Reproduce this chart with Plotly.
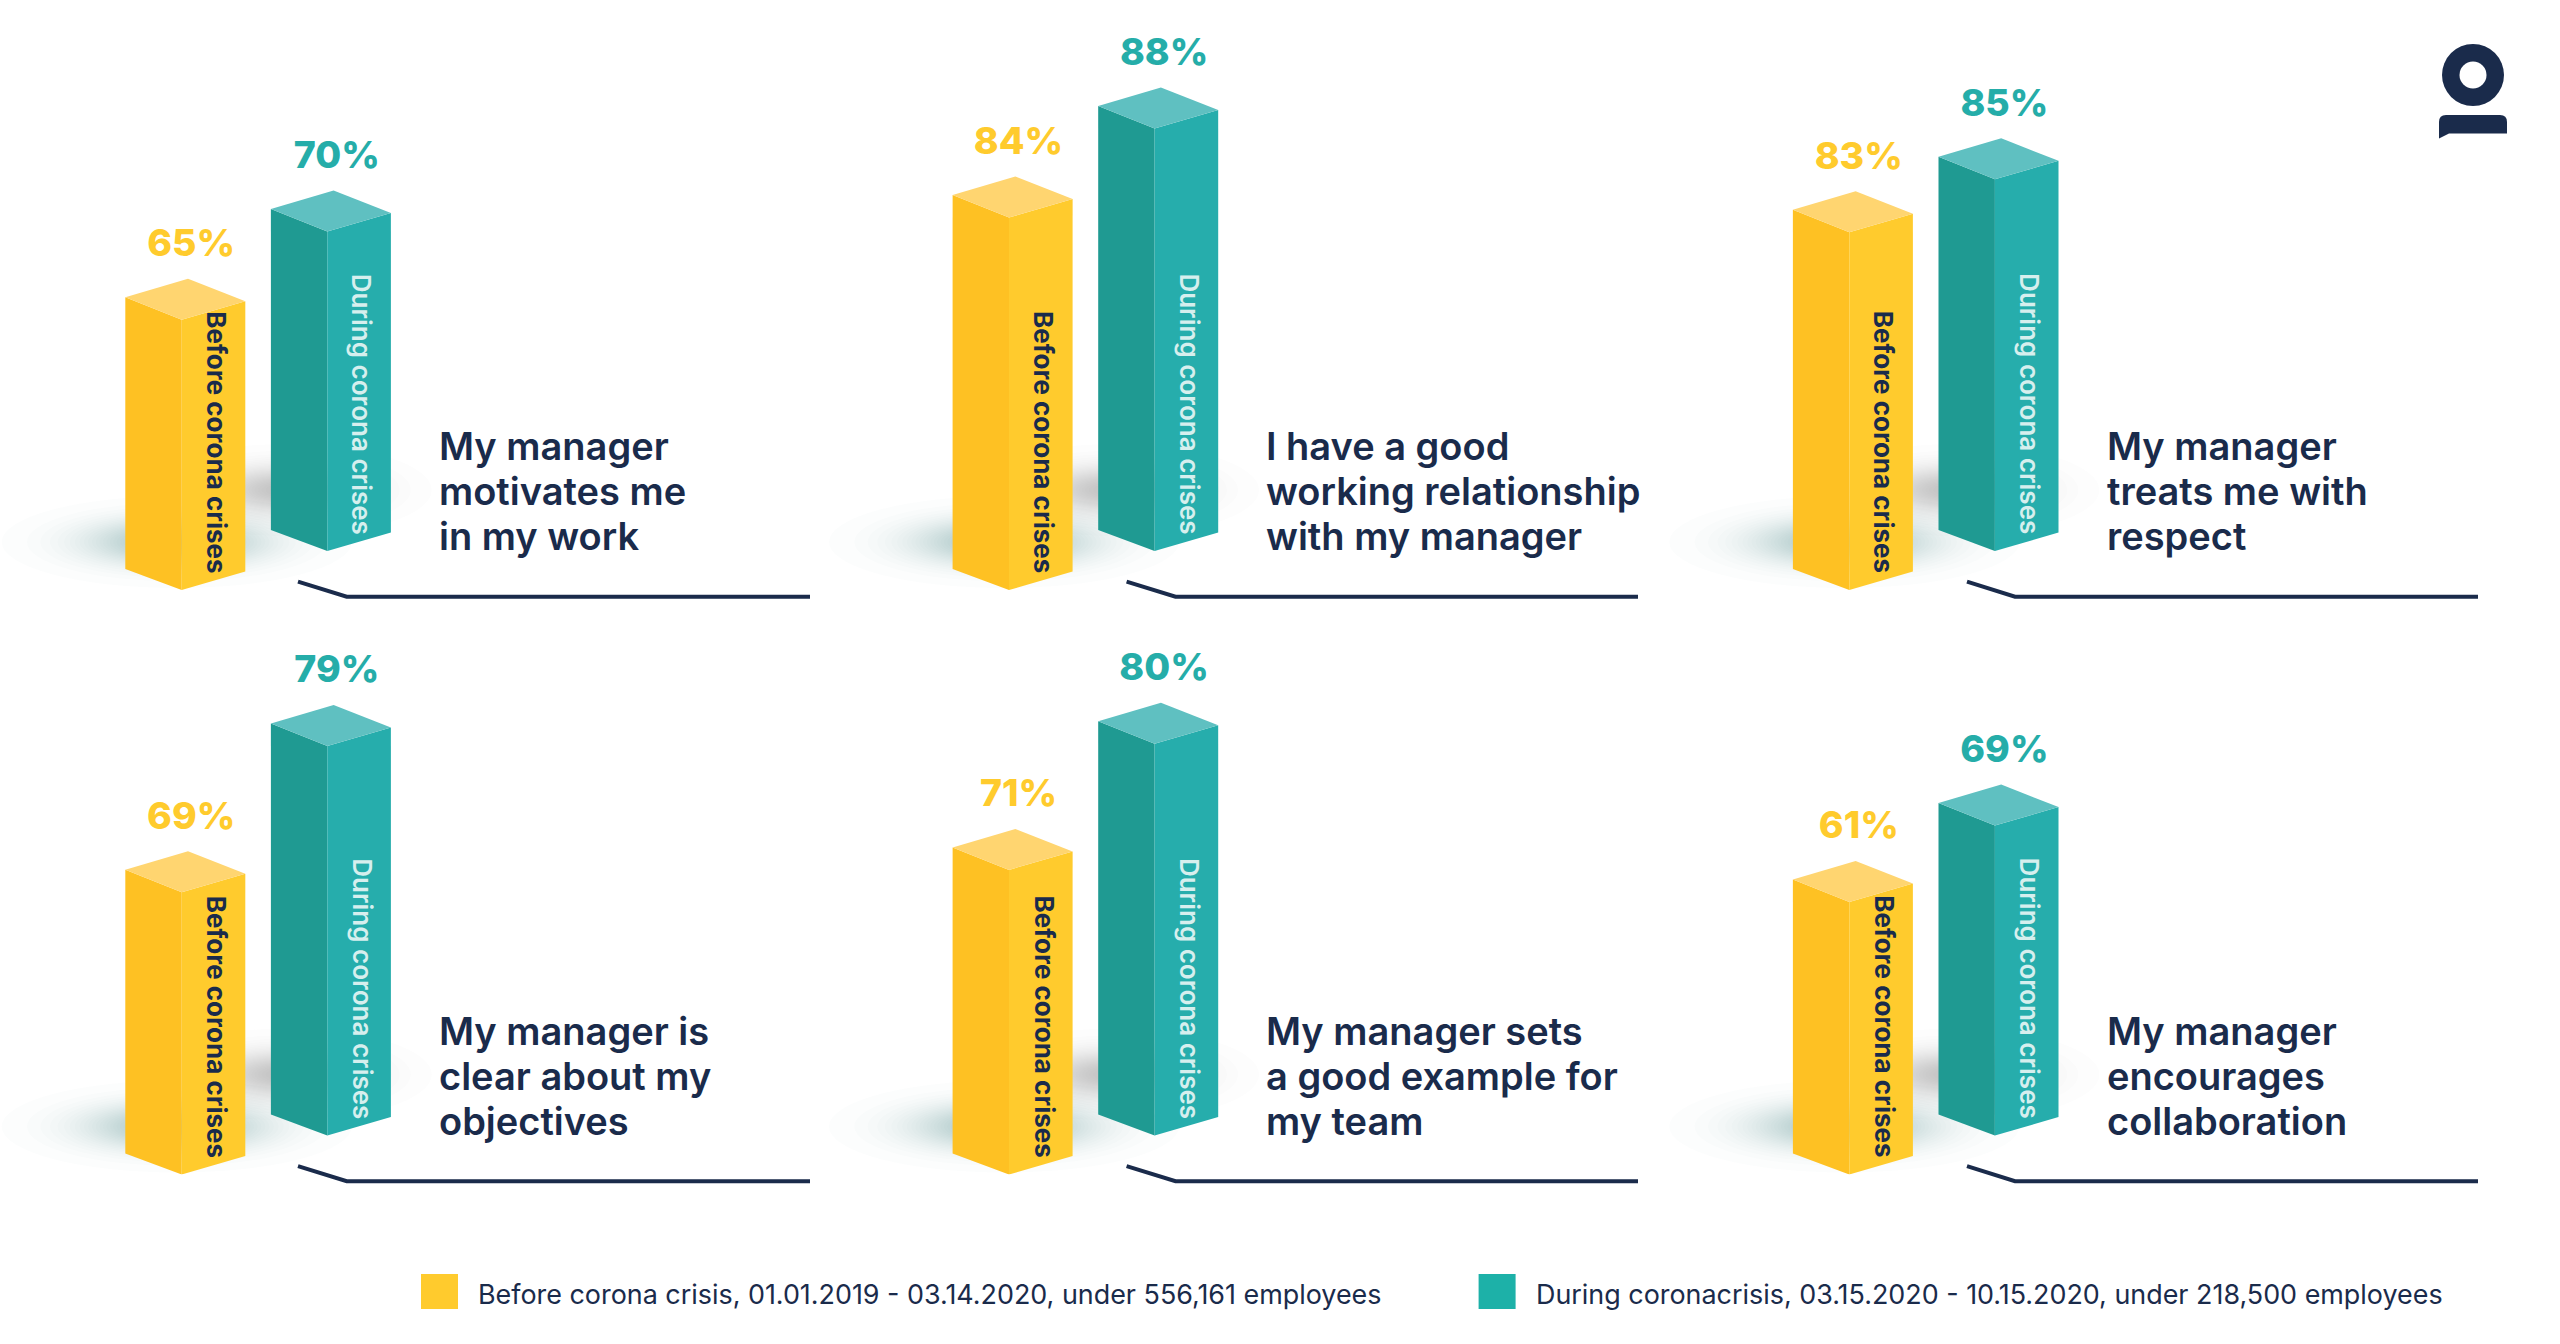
import math
import plotly.graph_objects as go

# ---------- data ----------
panel_titles = [
    ["My manager", "motivates me", "in my work"],
    ["I have a good", "working relationship", "with my manager"],
    ["My manager", "treats me with", "respect"],
    ["My manager is", "clear about my", "objectives"],
    ["My manager sets", "a good example for", "my team"],
    ["My manager", "encourages", "collaboration"],
]
before_values = [65, 84, 83, 69, 71, 61]
during_values = [70, 88, 85, 79, 80, 69]
before_bar_label = "Before corona crises"
during_bar_label = "During corona crises"
before_legend = "Before corona crisis, 01.01.2019 - 03.14.2020, under 556,161 employees"
during_legend = "During coronacrisis, 03.15.2020 - 10.15.2020, under 218,500 employees"

# ---------- per-panel axis configuration (each panel has its own truncated scale) ----------
axis_start = [37.6, 54.2, 31.9, 42.7, 39.5, 2.5]     # value at the floor
px_per_pt = [9.86, 12.5, 7.0, 10.73, 9.67, 4.66]     # axis scale
W, H = 2560, 1344
col_front = [181.7, 1009.0, 1849.3]
row_floor = [590.0, 1174.5]
title_x = [437, 1264, 2105]
rule_x = [(298, 346.7, 810), (1126.6, 1175.5, 1638), (1967, 2015, 2478)]
UNIT = 145.6      # px between the two columns of a panel
LIFT = 39         # px the back column stands above the front one
PANEL_H = 560

NAVY = "#1A2B4B"
YELLOW = dict(left="#FEC123", right="#FFCB2D", top="#FFD570", label="#FFCB2D")
TEAL = dict(left="#1F9A92", right="#26ADAC", top="#5FC0C1", label="#25ADA9")
FONT = "Inter"

fx = lambda px: px / W
fy = lambda px: 1 - px / H

fig = go.Figure()
shapes, annos = [], []


def column(axis, pos, value, lift, k, start, pal):
    """Three faces of an isometric column, in the panel's axis units."""
    xa, ya = f"x{axis}", f"y{axis}"
    xl, xr, xa_apex = pos - 56.4 / UNIT, pos + 63.6 / UNIT, pos + 6.3 / UNIT
    top, floor = value + lift, start + lift
    faces = [
        ("left", [xl, pos, pos, xl], [top + 22.5 / k, top, floor, floor + 21 / k]),
        ("right", [pos, xr, xr, pos], [top, top + 18.5 / k, floor + 18.5 / k, floor]),
        ("top", [xl, xa_apex, xr, pos], [top + 22.5 / k, top + 41 / k, top + 18.5 / k, top]),
    ]
    for name, xs, ys in faces:
        fig.add_trace(go.Scatter(x=xs + xs[:1], y=ys + ys[:1], xaxis=xa, yaxis=ya, mode="lines",
                                 fill="toself", fillcolor=pal[name], line=dict(width=0),
                                 hoverinfo="skip", showlegend=False))
    fig.add_trace(go.Scatter(x=[pos + 9.5 / UNIT], y=[top + 73 / k], xaxis=xa, yaxis=ya, mode="text",
                             text=[f"{value}%"], textposition="middle center", cliponaxis=False,
                             textfont=dict(family=FONT, size=37.5, color=pal["label"], weight=800),
                             hoverinfo="skip", showlegend=False))


def shadow(cx, cy, rx, ry, n=30, alpha=0.014):
    """Soft floor shadow: stacked faint ellipses whose radii thin out towards the rim."""
    rim = math.sqrt(-math.log(0.5 / n))
    for i in range(n):
        t = math.sqrt(-math.log((i + 0.5) / n)) / rim
        shapes.append(dict(type="circle", xref="paper", yref="paper", layer="below",
                           x0=fx(cx - rx * t), x1=fx(cx + rx * t),
                           y0=fy(cy + ry * t), y1=fy(cy - ry * t),
                           fillcolor="#48666F", opacity=alpha, line=dict(width=0)))


layout_axes = {}
for i in range(6):
    c, r = i % 3, i // 3
    axis = i + 1
    front, floor = col_front[c], row_floor[r]
    k, start = px_per_pt[i], axis_start[i]
    layout_axes[f"xaxis{axis}"] = dict(domain=[fx(front - 100), fx(front + 300)],
                                       range=[-100 / UNIT, 300 / UNIT], visible=False,
                                       anchor=f"y{axis}", fixedrange=True)
    layout_axes[f"yaxis{axis}"] = dict(domain=[fy(floor), fy(floor - PANEL_H)],
                                       range=[start, start + PANEL_H / k], visible=False,
                                       anchor=f"x{axis}", fixedrange=True)

    # soft floor shadows
    shadow(front - 5, floor - 48, 175, 46)
    shadow(front + 105, floor - 100, 145, 46, alpha=0.011)

    # columns
    column(axis, 0, before_values[i], 0, k, start, YELLOW)
    column(axis, 1, during_values[i], LIFT / k, k, start, TEAL)

    # labels on the columns
    annos.append(dict(text=before_bar_label, xref="paper", yref="paper", x=fx(front + 35),
                      y=fy(floor - 148), textangle=90, showarrow=False, xanchor="center", yanchor="middle",
                      font=dict(family=FONT, size=26, color=NAVY, weight=700)))
    annos.append(dict(text=during_bar_label, xref="paper", yref="paper", x=fx(front + UNIT + 35),
                      y=fy(floor - 186), textangle=90, showarrow=False, xanchor="center", yanchor="middle",
                      font=dict(family=FONT, size=26, color="#D6EFEE", weight=600)))

    # panel title
    base = 446 + r * 584.5
    for j, line in enumerate(panel_titles[i]):
        annos.append(dict(text=line, xref="paper", yref="paper", x=fx(title_x[c]), y=fy(base + j * 45.2),
                          xanchor="left", yanchor="middle", showarrow=False,
                          font=dict(family=FONT, size=38, color=NAVY, weight=600)))

    # rule under the panel
    x0, x1, x2 = rule_x[c]
    y = 596.7 + r * 584.5
    shapes.append(dict(type="path", xref="paper", yref="paper",
                       path=f"M {fx(x0)} {fy(y - 15)} L {fx(x1)} {fy(y)} L {fx(x2)} {fy(y)}",
                       line=dict(color=NAVY, width=4)))

# legend
for x0, col, label, tx in [(421, "#FFCB2D", before_legend, 476), (1478.6, "#1DB1A8", during_legend, 1534)]:
    shapes.append(dict(type="rect", xref="paper", yref="paper", x0=fx(x0), x1=fx(x0 + 37),
                       y0=fy(1309), y1=fy(1274), fillcolor=col, line=dict(width=0)))
    annos.append(dict(text=label, xref="paper", yref="paper", x=fx(tx), y=fy(1294), xanchor="left",
                      yanchor="middle", showarrow=False, font=dict(family=FONT, size=26.9, color=NAVY)))

# logo
shapes.append(dict(type="circle", xref="paper", yref="paper", x0=fx(2442), x1=fx(2504), y0=fy(106), y1=fy(44),
                   fillcolor=NAVY, line=dict(width=0)))
shapes.append(dict(type="circle", xref="paper", yref="paper", x0=fx(2459.5), x1=fx(2486.5), y0=fy(88.5), y1=fy(61.5),
                   fillcolor="white", line=dict(width=0)))
pts = [("M", 2439, 138.5), ("L", 2439, 122), ("Q", 2439, 115, 2446, 115), ("L", 2500, 115),
       ("Q", 2507, 115, 2507, 122), ("L", 2507, 133.5), ("L", 2449, 133.5), ("Z",)]
path = " ".join(p[0] if len(p) == 1 else p[0] + " " + " ".join(
    f"{fx(v) if n % 2 == 0 else fy(v)}" for n, v in enumerate(p[1:])) for p in pts)
shapes.append(dict(type="path", xref="paper", yref="paper", path=path, fillcolor=NAVY, line=dict(width=0)))

fig.update_layout(width=W, height=H, margin=dict(l=0, r=0, t=0, b=0), paper_bgcolor="white",
                  plot_bgcolor="rgba(0,0,0,0)", showlegend=False, shapes=shapes, annotations=annos,
                  **layout_axes)
fig.write_html("out.html", config=dict(displayModeBar=False),
               post_script="document.body.style.margin='0';document.documentElement.style.overflow='hidden';")
